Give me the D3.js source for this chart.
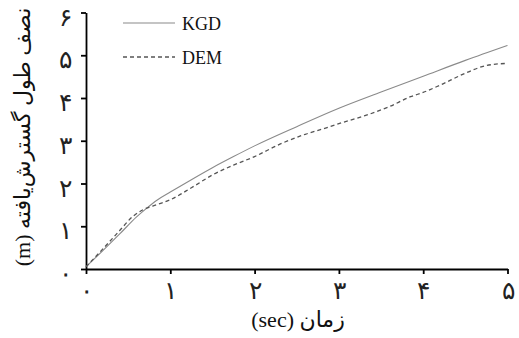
<!DOCTYPE html>
<html>
  <head>
    <meta charset="utf-8" />
    <script src="https://d3js.org/d3.v7.min.js"></script>
    <style>
      body { margin: 0; background: #fff; }
      .axis path, .axis line { stroke: #000; stroke-width: 1.8px; }
      .axis text { font-family: "DejaVu Sans", sans-serif; font-size: 25px; font-weight: 300; fill: #222; }
      .lbl { font-family: "Liberation Serif", "DejaVu Sans", serif; fill: #111; }
    </style>
  </head>
  <body>
    <svg width="519" height="338"></svg>
    <script>
      // time (sec) and half fracture length (m)
      const kgdT = [0, 0.2, 0.4, 0.6, 0.7, 0.85, 1.0, 1.25, 1.5, 1.75, 2, 2.5, 3, 3.5, 4, 4.5, 5];
      const kgdV = [0.05, 0.43, 0.82, 1.22, 1.39, 1.62, 1.8, 2.09, 2.37, 2.63, 2.88, 3.33, 3.76, 4.14, 4.51, 4.88, 5.23];
      const demT = [0, 0.2, 0.4, 0.55, 0.68, 0.85, 1.0, 1.25, 1.5, 1.75, 2.0, 2.3, 2.6, 2.8, 3.0, 3.3, 3.6, 3.85, 4.0, 4.2, 4.5, 4.75, 5];
      const demV = [0.05, 0.47, 0.9, 1.22, 1.39, 1.51, 1.62, 1.9, 2.2, 2.43, 2.63, 2.92, 3.15, 3.27, 3.4, 3.58, 3.8, 4.03, 4.13, 4.3, 4.58, 4.76, 4.81];
      const xTicks = [0, 1, 2, 3, 4, 5];
      const yTicks = [0, 1, 2, 3, 4, 5, 6];
      const faDigits = ["۰", "۱", "۲", "۳", "۴", "۵", "۶"];

      const svg = d3.select("svg");
      const x = d3.scaleLinear().domain([0, 5]).range([86, 507.5]);
      const y = d3.scaleLinear().domain([0, 6]).range([269, 12.5]);

      // axes
      svg.append("g")
        .attr("class", "axis")
        .attr("transform", "translate(0,269)")
        .call(d3.axisBottom(x).tickValues(xTicks).tickSize(5).tickSizeOuter(0).tickFormat((d) => faDigits[d]))
        .call((g) => g.selectAll("text").attr("y", 12).attr("dy", "0.71em"));

      svg.append("g")
        .attr("class", "axis")
        .attr("transform", "translate(86,0)")
        .call(d3.axisLeft(y).tickValues(yTicks).tickSize(5).tickSizeOuter(0).tickFormat((d) => faDigits[d]))
        .call((g) => g.selectAll("text").attr("x", -21).attr("text-anchor", "middle").attr("dy", "0.5em"));

      const line = d3.line().x((d) => x(d[0])).y((d) => y(d[1])).curve(d3.curveMonotoneX);

      svg.append("path")
        .datum(kgdT.map((t, i) => [t, kgdV[i]]))
        .attr("fill", "none")
        .attr("stroke", "#8a8a8a")
        .attr("stroke-width", 1.1)
        .attr("d", line);

      svg.append("path")
        .datum(demT.map((t, i) => [t, demV[i]]))
        .attr("fill", "none")
        .attr("stroke", "#555")
        .attr("stroke-width", 1.3)
        .attr("stroke-dasharray", "4,3")
        .attr("d", line);

      // legend
      const legend = [
        { name: "KGD", y: 23, color: "#8a8a8a", dash: null, w: 1.1 },
        { name: "DEM", y: 57, color: "#555", dash: "4,3", w: 1.3 },
      ];
      legend.forEach((d) => {
        svg.append("line")
          .attr("x1", 123).attr("x2", 175).attr("y1", d.y).attr("y2", d.y)
          .attr("stroke", d.color).attr("stroke-width", d.w)
          .attr("stroke-dasharray", d.dash);
        svg.append("text")
          .attr("class", "lbl")
          .attr("x", 182).attr("y", d.y + 7)
          .attr("font-size", 18)
          .text(d.name);
      });

      // axis titles
      svg.append("text")
        .attr("class", "lbl")
        .attr("x", 298).attr("y", 327)
        .attr("text-anchor", "middle")
        .attr("font-size", 22)
        .text("(sec) زمان");

      svg.append("text")
        .attr("class", "lbl")
        .attr("transform", "translate(30,137) rotate(-90)")
        .attr("text-anchor", "middle")
        .attr("font-size", 22)
        .text("(m) نصف طول گسترش‌یافته");
    </script>
  </body>
</html>
